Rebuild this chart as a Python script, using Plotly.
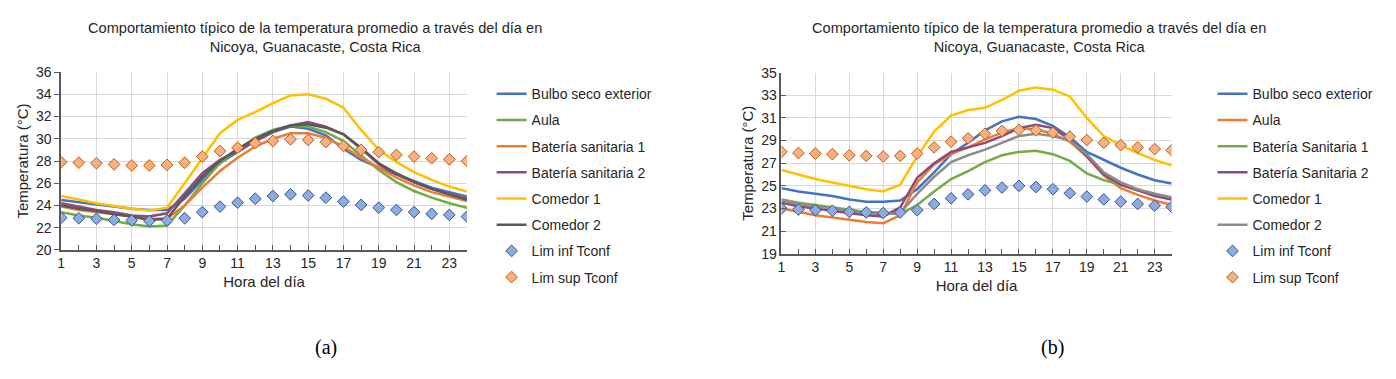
import plotly.graph_objects as go

# Page is shown with an 8px body margin, so the figure is laid out at 1380x363
# and reference pixel positions are shifted by 8px.
W, H = 1380, 363
OFF = 8
hours = list(range(1, 25))

# ---------------- Panel (a) ----------------
a_names = ["Bulbo seco exterior", "Aula", "Batería sanitaria 1", "Batería sanitaria 2",
           "Comedor 1", "Comedor 2"]
a_bulbo = [24.5, 24.3, 24.1, 23.9, 23.7, 23.6, 23.6, 24.6, 26.3, 27.8, 28.8, 29.8,
           30.6, 31.1, 30.9, 30.3, 29.1, 28.1, 27.4, 26.8, 26.2, 25.6, 25.2, 24.8]
a_aula = [23.4, 23.1, 22.9, 22.6, 22.3, 22.1, 22.2, 24.0, 26.0, 27.8, 29.0, 30.1,
          30.8, 31.2, 31.1, 30.6, 29.8, 28.5, 27.2, 26.1, 25.3, 24.7, 24.2, 23.8]
a_bat1 = [23.9, 23.6, 23.4, 23.2, 23.0, 22.8, 22.8, 24.0, 25.6, 27.1, 28.3, 29.3,
          30.0, 30.5, 30.5, 30.1, 29.3, 28.3, 27.4, 26.5, 25.8, 25.2, 24.8, 24.4]
a_bat2 = [24.2, 23.9, 23.6, 23.4, 23.1, 23.0, 23.3, 25.1, 26.9, 28.1, 28.9, 29.8,
          30.6, 31.2, 31.5, 31.1, 30.4, 29.1, 27.7, 26.8, 26.1, 25.5, 25.0, 24.6]
a_com1 = [24.85, 24.5, 24.2, 23.95, 23.7, 23.55, 23.8, 26.0, 28.3, 30.5, 31.7, 32.4,
          33.2, 33.9, 34.0, 33.6, 32.8, 30.8, 29.0, 27.9, 27.0, 26.3, 25.7, 25.25]
a_com2 = [24.0, 23.7, 23.5, 23.2, 23.0, 22.7, 22.8, 24.8, 26.6, 28.0, 29.1, 30.0,
          30.7, 31.2, 31.3, 31.0, 30.4, 29.2, 27.8, 26.9, 26.1, 25.5, 25.0, 24.5]
a_inf = [22.9, 22.85, 22.8, 22.7, 22.65, 22.6, 22.65, 22.85, 23.4, 23.9, 24.25, 24.6,
         24.85, 25.0, 24.9, 24.7, 24.35, 24.05, 23.8, 23.6, 23.4, 23.25, 23.15, 23.0]
a_sup = [27.9, 27.85, 27.8, 27.7, 27.6, 27.6, 27.65, 27.85, 28.4, 28.9, 29.2, 29.6,
         29.8, 29.95, 29.9, 29.7, 29.35, 29.0, 28.8, 28.55, 28.4, 28.25, 28.15, 28.0]
a_colors = ["#4472C4", "#70AD47", "#ED7D31", "#8E4A7D", "#FFC000", "#595959"]

# ---------------- Panel (b) ----------------
b_names = ["Bulbo seco exterior", "Aula", "Batería Sanitaria 1", "Batería Sanitaria 2",
           "Comedor 1", "Comedor 2"]
b_bulbo = [24.8, 24.5, 24.3, 24.1, 23.8, 23.6, 23.6, 23.7, 24.7, 26.2, 27.8, 28.8,
           29.9, 30.7, 31.1, 30.9, 30.3, 29.3, 28.0, 27.3, 26.6, 26.0, 25.5, 25.2]
b_aula = [23.0, 22.7, 22.4, 22.2, 22.0, 21.8, 21.7, 22.4, 25.3, 26.9, 27.8, 28.4,
          29.1, 29.7, 30.1, 30.0, 29.6, 28.9, 27.6, 25.9, 24.8, 24.2, 23.7, 23.3]
b_bat1 = [23.8, 23.5, 23.3, 23.1, 22.9, 22.7, 22.6, 22.5, 23.3, 24.5, 25.6, 26.3,
          27.1, 27.7, 28.0, 28.1, 27.8, 27.2, 26.1, 25.5, 25.1, 24.6, 24.3, 23.9]
b_bat2 = [23.5, 23.2, 23.0, 22.8, 22.6, 22.4, 22.3, 23.1, 25.7, 27.0, 28.0, 28.4,
          28.8, 29.4, 30.1, 30.4, 30.1, 29.1, 27.6, 26.0, 25.1, 24.6, 24.1, 23.8]
b_com1 = [26.4, 26.0, 25.6, 25.3, 25.0, 24.7, 24.5, 25.1, 27.6, 29.8, 31.2, 31.7,
          31.9, 32.6, 33.4, 33.7, 33.5, 32.9, 31.0, 29.4, 28.6, 27.9, 27.3, 26.8]
b_com2 = [23.7, 23.4, 23.2, 23.0, 22.8, 22.6, 22.5, 22.6, 24.3, 25.8, 27.1, 27.7,
          28.2, 28.8, 29.4, 29.6, 29.4, 29.0, 27.8, 26.2, 25.3, 24.7, 24.3, 24.0]
b_inf = [23.0, 22.9, 22.85, 22.8, 22.7, 22.65, 22.6, 22.65, 22.85, 23.4, 23.9, 24.25,
         24.6, 24.85, 25.0, 24.9, 24.7, 24.35, 24.05, 23.8, 23.6, 23.4, 23.25, 23.15]
b_sup = [28.0, 27.9, 27.85, 27.8, 27.7, 27.65, 27.6, 27.65, 27.85, 28.4, 28.9, 29.2,
         29.6, 29.85, 29.95, 29.9, 29.7, 29.35, 29.05, 28.8, 28.6, 28.4, 28.25, 28.15]
b_colors = ["#4472C4", "#ED7D31", "#70AD47", "#8E4A7D", "#FFC000", "#8C8C8C"]

marker_names = ["Lim inf Tconf", "Lim sup Tconf"]
inf_fill, inf_line = "#8FAADC", "#2F5597"
sup_fill, sup_line = "#F4B183", "#C55A11"

title_text = "Comportamiento típico de la temperatura promedio a través del día en<br>Nicoya, Guanacaste, Costa Rica"
FONT = "Liberation Sans"

fig = go.Figure()

def add_panel(series, names, colors, inf, sup, xa, ya, leg, tag):
    for i, (vals, nm, col) in enumerate(zip(series, names, colors)):
        fig.add_trace(go.Scatter(x=hours, y=vals, name=nm, mode="lines",
                                 line=dict(color=col, width=2.5),
                                 xaxis=xa, yaxis=ya, legend=leg,
                                 legendgroup=f"{tag}{i}"))
    fig.add_trace(go.Scatter(x=hours, y=inf, name=marker_names[0], mode="markers",
                             marker=dict(symbol="diamond", size=9, color=inf_fill,
                                         line=dict(color=inf_line, width=1)),
                             xaxis=xa, yaxis=ya, legend=leg, legendgroup=f"{tag}inf"))
    fig.add_trace(go.Scatter(x=hours, y=sup, name=marker_names[1], mode="markers",
                             marker=dict(symbol="diamond", size=9, color=sup_fill,
                                         line=dict(color=sup_line, width=1)),
                             xaxis=xa, yaxis=ya, legend=leg, legendgroup=f"{tag}sup"))

add_panel([a_bulbo, a_aula, a_bat1, a_bat2, a_com1, a_com2], a_names, a_colors,
          a_inf, a_sup, "x", "y", "legend", "a")
add_panel([b_bulbo, b_aula, b_bat1, b_bat2, b_com1, b_com2], b_names, b_colors,
          b_inf, b_sup, "x2", "y2", "legend2", "b")

axis_col = "#595959"
grid_col = "#D9D9D9"

def xaxis_cfg(dom):
    return dict(domain=dom, range=[1, 24], tick0=1, dtick=2, showgrid=True,
                gridcolor=grid_col, gridwidth=1, zeroline=False,
                showline=True, linecolor=axis_col, linewidth=1.5,
                ticks="inside", ticklen=5, tickcolor=axis_col,
                minor=dict(tick0=1, dtick=1, ticks="inside", ticklen=5,
                           tickcolor=axis_col, showgrid=False),
                tickfont=dict(size=14, color="#262626", family=FONT),
                title=dict(text="Hora del día", font=dict(size=15, color="#262626", family=FONT),
                           standoff=6))

def yaxis_cfg(dom, rng, ticks):
    return dict(domain=dom, range=rng, tick0=rng[0], dtick=2, showgrid=True,
                gridcolor=grid_col, gridwidth=1, zeroline=False,
                showline=True, linecolor=axis_col, linewidth=1.5,
                ticks=ticks, ticklen=5, tickcolor=axis_col,
                tickfont=dict(size=14, color="#262626", family=FONT),
                title=dict(text="Temperatura (°C)", font=dict(size=15, color="#262626", family=FONT),
                           standoff=4))

def px(v):
    return (v - OFF) / W

def py(v):
    return 1 - (v - OFF) / H

legend_common = dict(font=dict(size=14, color="#262626", family=FONT),
                     bgcolor="rgba(0,0,0,0)", tracegroupgap=5,
                     xanchor="left", yanchor="top", itemwidth=30)

fig.update_layout(
    width=W, height=H, autosize=False, margin=dict(l=0, r=0, t=0, b=0),
    paper_bgcolor="white", plot_bgcolor="white",
    font=dict(family=FONT, color="#262626"),
    xaxis=xaxis_cfg([px(57.3), px(464.3)]),
    yaxis=yaxis_cfg([py(252.7), py(66.7)], [20, 36], "outside"),
    xaxis2=dict(xaxis_cfg([px(779.7), px(1171)]), anchor="y2"),
    yaxis2=dict(yaxis_cfg([py(256.7), py(67.3)], [19, 35], "inside"), anchor="x2"),
    legend=dict(legend_common, x=px(489), y=py(73)),
    legend2=dict(legend_common, x=px(1212), y=py(73)),
    showlegend=True,
    annotations=[
        dict(text=title_text, x=px(312), y=py(30), xref="paper", yref="paper",
             xanchor="center", yanchor="middle",
             showarrow=False, font=dict(size=14.6, color="#262626", family=FONT)),
        dict(text=title_text, x=px(1038), y=py(30), xref="paper", yref="paper",
             xanchor="center", yanchor="middle",
             showarrow=False, font=dict(size=14.6, color="#262626", family=FONT)),
        dict(text="(a)", x=px(323), y=py(355), xref="paper", yref="paper",
             xanchor="center", yanchor="middle",
             showarrow=False, font=dict(size=20, color="black", family="Liberation Serif")),
        dict(text="(b)", x=px(1052), y=py(355), xref="paper", yref="paper",
             xanchor="center", yanchor="middle",
             showarrow=False, font=dict(size=20, color="black", family="Liberation Serif")),
    ],
)

fig.write_html("out.html", config={"displayModeBar": False})
